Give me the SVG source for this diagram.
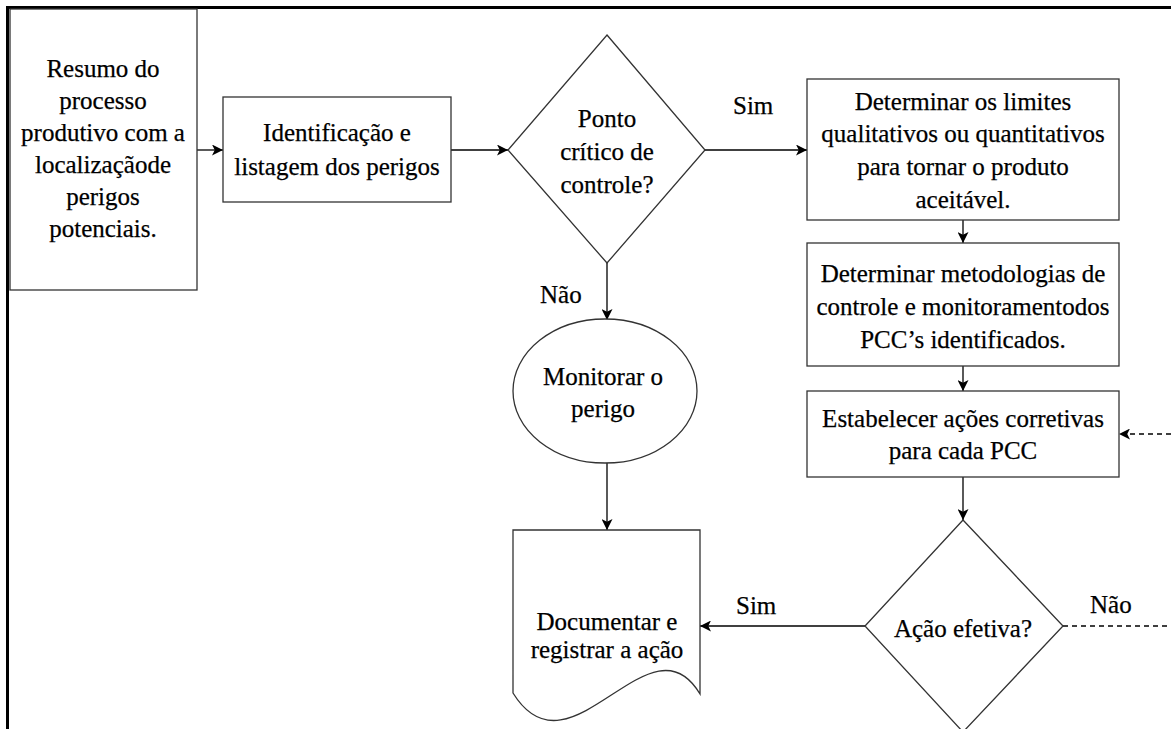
<svg xmlns="http://www.w3.org/2000/svg" width="1171" height="729" viewBox="0 0 1171 729">
<style>
text{font-family:'Liberation Serif','Times New Roman',Times,'DejaVu Serif',serif;font-size:25px;fill:#000;stroke:#000;stroke-width:0.25;text-anchor:middle}
.shape{fill:#fff;stroke:#333;stroke-width:1.3}
.conn{stroke:#000;stroke-width:1.3;fill:none}
.dash{stroke:#000;stroke-width:1.3;fill:none;stroke-dasharray:5 4}
.lbl{text-anchor:start}
</style>
<defs>
<marker id="arr" viewBox="0 0 10 10" refX="10" refY="5" markerWidth="11" markerHeight="11" markerUnits="userSpaceOnUse" orient="auto">
<path d="M0,0 L10,5 L0,10 L2.5,5 Z" fill="#000"/>
</marker>
</defs>
<g id="frame">
<line x1="6" y1="7.5" x2="1171" y2="7.5" stroke="#000" stroke-width="3"/>
<line x1="7.5" y1="6" x2="7.5" y2="729" stroke="#000" stroke-width="3"/>
</g>
<g id="connectors">
<line class="conn" x1="197" y1="150" x2="223" y2="150" marker-end="url(#arr)"/>
<line class="conn" x1="451" y1="150" x2="508" y2="150" marker-end="url(#arr)"/>
<line class="conn" x1="705" y1="150" x2="807" y2="150" marker-end="url(#arr)"/>
<line class="conn" x1="963" y1="220" x2="963" y2="243" marker-end="url(#arr)"/>
<line class="conn" x1="963" y1="366" x2="963" y2="391" marker-end="url(#arr)"/>
<line class="conn" x1="963" y1="477" x2="963" y2="520" marker-end="url(#arr)"/>
<line class="conn" x1="607" y1="263" x2="607" y2="320" marker-end="url(#arr)"/>
<line class="conn" x1="607" y1="463" x2="607" y2="530" marker-end="url(#arr)"/>
<line class="conn" x1="865" y1="626" x2="700" y2="626" marker-end="url(#arr)"/>
<line class="dash" x1="1063" y1="626" x2="1171" y2="626"/>
<line class="dash" x1="1171" y1="434" x2="1119" y2="434" marker-end="url(#arr)"/>
<text class="lbl" x="733" y="114">Sim</text>
<text class="lbl" x="540" y="303">Não</text>
<text class="lbl" x="736" y="614">Sim</text>
<text class="lbl" x="1090" y="613">Não</text>
</g>
<g id="n1">
<rect class="shape" x="10" y="9" width="187" height="281"/>
<text x="103" y="77">Resumo do</text>
<text x="103" y="109">processo</text>
<text x="103" y="141">produtivo com a</text>
<text x="103" y="173">localizaçãode</text>
<text x="103" y="205">perigos</text>
<text x="103" y="237">potenciais.</text>
</g>
<g id="n2">
<rect class="shape" x="223" y="97" width="228" height="105"/>
<text x="337" y="141">Identificação e</text>
<text x="337" y="175">listagem dos perigos</text>
</g>
<g id="n3">
<polygon class="shape" points="607,35 705,150 607,263 508,150"/>
<text x="607" y="127">Ponto</text>
<text x="607" y="160">crítico de</text>
<text x="607" y="193">controle?</text>
</g>
<g id="n4">
<rect class="shape" x="807" y="79" width="312" height="141"/>
<text x="963" y="110">Determinar os limites</text>
<text x="963" y="142">qualitativos ou quantitativos</text>
<text x="963" y="175">para tornar o produto</text>
<text x="963" y="208">aceitável.</text>
</g>
<g id="n5">
<rect class="shape" x="807" y="243" width="312" height="123"/>
<text x="963" y="282">Determinar metodologias de</text>
<text x="963" y="315">controle e monitoramentodos</text>
<text x="963" y="348">PCC’s identificados.</text>
</g>
<g id="n6">
<rect class="shape" x="807" y="391" width="312" height="86"/>
<text x="963" y="427">Estabelecer ações corretivas</text>
<text x="963" y="459">para cada PCC</text>
</g>
<g id="n7">
<ellipse class="shape" cx="605" cy="391" rx="92" ry="72"/>
<text x="603" y="385">Monitorar o</text>
<text x="603" y="417">perigo</text>
</g>
<g id="n8">
<path class="shape" d="M513,530 H700 V694 C650,610 570,785 513,693 Z"/>
<text x="607" y="630">Documentar e</text>
<text x="607" y="658">registrar a ação</text>
</g>
<g id="n9">
<polygon class="shape" points="963,520 1063,626 963,732 865,626"/>
<text x="963" y="637">Ação efetiva?</text>
</g>
</svg>
